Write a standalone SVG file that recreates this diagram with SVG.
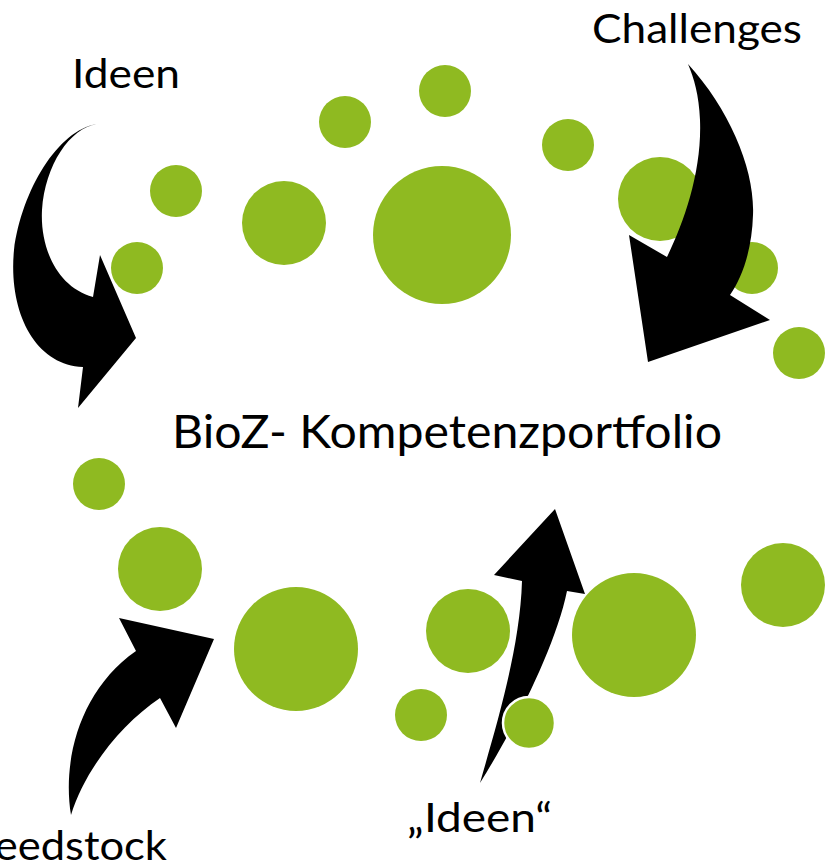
<svg xmlns="http://www.w3.org/2000/svg" width="825" height="865" viewBox="0 0 825 865">
  <style>
    .dot { fill: #8FBA21; }
    .dot-ring { fill: #8FBA21; stroke: #FFFFFF; stroke-width: 2.5; }
    .arrow { fill: #000000; }
    .label { font-family: Lato, "Open Sans", "Liberation Sans", sans-serif; font-size: 41px; fill: #000000; }
    .title { font-family: Lato, "Open Sans", "Liberation Sans", sans-serif; font-size: 46px; fill: #000000; }
  </style>
  <rect width="825" height="865" fill="#FFFFFF"/>

  <g id="circles">
    <circle class="dot" cx="176" cy="191" r="26"/>
    <circle class="dot" cx="137" cy="268" r="26"/>
    <circle class="dot" cx="284" cy="223" r="42"/>
    <circle class="dot" cx="345" cy="122" r="26"/>
    <circle class="dot" cx="445" cy="91" r="26"/>
    <circle class="dot" cx="442" cy="235" r="69"/>
    <circle class="dot" cx="568" cy="145" r="26"/>
    <circle class="dot" cx="660" cy="199" r="42"/>
    <circle class="dot" cx="752" cy="268" r="26"/>
    <circle class="dot" cx="799" cy="353" r="26"/>
    <circle class="dot" cx="99" cy="484" r="26"/>
    <circle class="dot" cx="160" cy="569" r="42"/>
    <circle class="dot" cx="296" cy="649" r="62"/>
    <circle class="dot" cx="468" cy="631" r="42"/>
    <circle class="dot" cx="421" cy="715" r="26"/>
    <circle class="dot" cx="634" cy="635" r="62"/>
    <circle class="dot" cx="783" cy="585" r="42"/>
  </g>

  <g id="connectors">
    <path id="arrow-ideen" class="arrow" d="M97,124 C58,130 22,190 14,250 C8,312 35,365 83,367 L78,408 L136,338 L100,255 L93,297 C57,287 40,248 42,210 C45,165 70,128 97,124 Z"/>
    <path id="arrow-challenges" class="arrow" d="M688,64 C730,110 755,170 753,215 C752,250 742,278 730,295 L770,320 L648,362 L629,235 L667,257 C685,220 702,170 700,120 C699,95 694,78 688,64 Z"/>
    <path id="arrow-ideen2" class="arrow" d="M480,783 C510,735 555,650 567,591 L585,594 L555,509 L494,575 L522,581 C520,650 495,730 480,783 Z"/>
    <path id="arrow-feedstock" class="arrow" d="M71,815 C62,760 80,690 136,651 L119,618 L214,639 L176,728 L160,698 C120,725 85,770 71,815 Z"/>
  </g>

  <g id="node-small-ring">
    <circle class="dot-ring" cx="529" cy="723" r="26"/>
  </g>

  <g id="node-ideen-top">
    <text class="label" x="72" y="88" textLength="108" lengthAdjust="spacingAndGlyphs">Ideen</text>
  </g>
  <g id="node-challenges">
    <text class="label" x="592" y="43" textLength="210" lengthAdjust="spacingAndGlyphs">Challenges</text>
  </g>
  <g id="node-center">
    <text class="title" x="172" y="448" textLength="550" lengthAdjust="spacingAndGlyphs">BioZ- Kompetenzportfolio</text>
  </g>
  <g id="node-ideen-bottom">
    <text class="label" x="407" y="832" textLength="145" lengthAdjust="spacingAndGlyphs">„Ideen“</text>
  </g>
  <g id="node-feedstock">
    <text class="label" x="-28" y="860" textLength="195" lengthAdjust="spacingAndGlyphs">Feedstock</text>
  </g>
</svg>
